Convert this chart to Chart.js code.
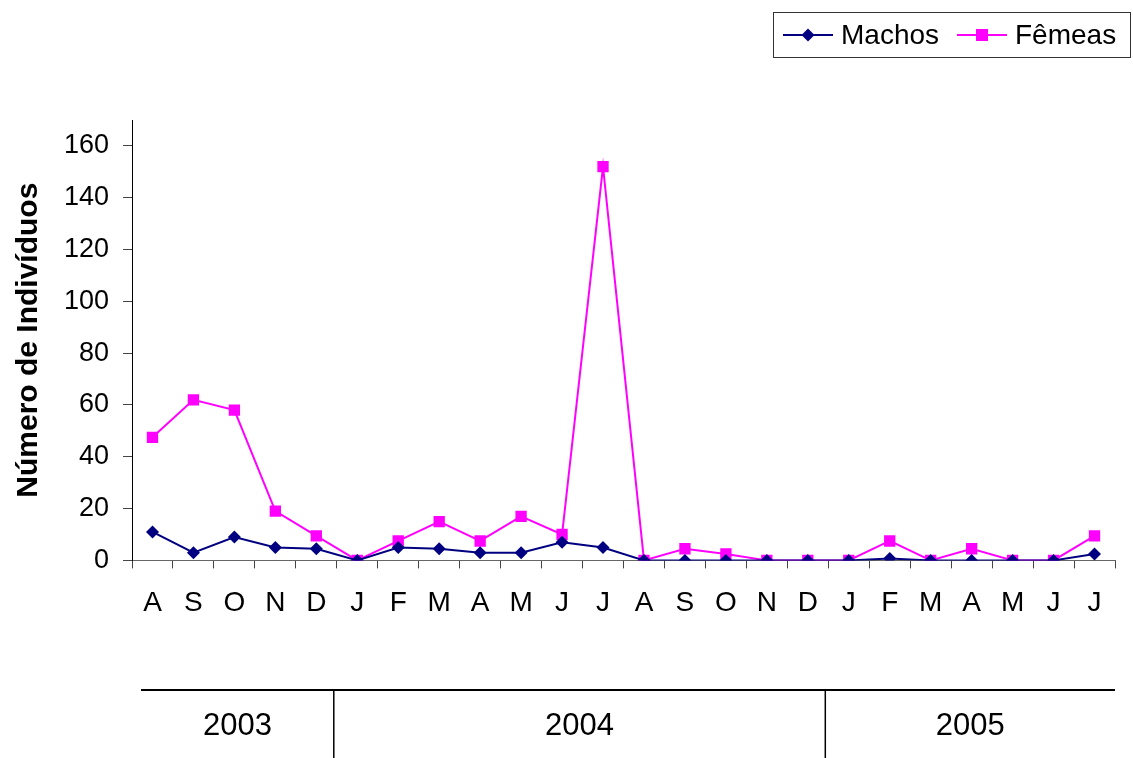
<!DOCTYPE html>
<html>
<head>
<meta charset="utf-8">
<script src="https://cdn.jsdelivr.net/npm/chart.js@4.4.1/dist/chart.umd.min.js"></script>
<style>
  html, body { margin: 0; padding: 0; background: #fff; }
  #wrap { width: 1133px; height: 758px; position: relative; }
</style>
</head>
<body>
<div id="wrap"><canvas id="c" width="1133" height="758"></canvas></div>
<script>
// Monthly captures, Aug 2003 – Jul 2005
const months = ['A','S','O','N','D','J','F','M','A','M','J','J','A','S','O','N','D','J','F','M','A','M','J','J'];
const machos = [11, 3, 9, 5, 4.5, 0, 5, 4.5, 3, 3, 7, 5, 0, 0, 0, 0, 0, 0, 0.7, 0, 0, 0, 0, 2.5];
const femeas = [47.5, 62, 58, 19, 9.5, 0, 7.5, 15, 7.5, 17, 10, 152, 0, 4.5, 2.5, 0, 0, 0, 7.5, 0, 4.5, 0, 0, 9.5];
const years = ['2003', '2004', '2005'];
const monthsPerYear = [5, 12, 7];
const yTicks = [0, 20, 40, 60, 80, 100, 120, 140, 160];

const FONT = "'Liberation Sans', Arial, sans-serif";

// Custom legend box: line sample with marker, then the series name
const legendBox = {
  id: 'legendBox',
  afterDraw(chart) {
    const ctx = chart.ctx;
    ctx.save();
    ctx.strokeStyle = '#333';
    ctx.lineWidth = 1;
    ctx.strokeRect(773.5, 12.5, 357, 45);
    const cy = 35;
    const starts = [783, 957];
    ctx.font = '28px ' + FONT;
    ctx.textBaseline = 'middle';
    chart.data.datasets.forEach((ds, i) => {
      const x0 = starts[i];
      ctx.strokeStyle = ds.borderColor;
      ctx.lineWidth = 2;
      ctx.beginPath();
      ctx.moveTo(x0, cy);
      ctx.lineTo(x0 + 50, cy);
      ctx.stroke();
      ctx.fillStyle = ds.backgroundColor;
      const mx = x0 + 25;
      if (ds.pointStyle === 'rectRot') {
        ctx.beginPath();
        ctx.moveTo(mx, cy - 6.5);
        ctx.lineTo(mx + 6.5, cy);
        ctx.lineTo(mx, cy + 6.5);
        ctx.lineTo(mx - 6.5, cy);
        ctx.closePath();
        ctx.fill();
      } else {
        ctx.fillRect(mx - 6, cy - 6, 12, 12);
      }
      ctx.fillStyle = '#000';
      ctx.textAlign = 'left';
      ctx.fillText(ds.label, x0 + 58, cy + 1);
    });
    ctx.restore();
  }
};

// Year band under the month axis
const yearBand = {
  id: 'yearBand',
  afterDraw(chart) {
    const ctx = chart.ctx;
    const xs = chart.scales.x;
    const top = 690, bottom = chart.height;
    ctx.save();
    ctx.strokeStyle = '#000';
    ctx.lineWidth = 2;
    ctx.beginPath();
    ctx.moveTo(xs.left + 9, top);
    ctx.lineTo(xs.right, top);
    ctx.stroke();
    ctx.font = '31px ' + FONT;
    ctx.fillStyle = '#000';
    ctx.textAlign = 'center';
    ctx.textBaseline = 'middle';
    let idx = 0;
    let segStart = xs.left + 9;
    years.forEach((yr, i) => {
      idx += monthsPerYear[i];
      let segEnd;
      if (i < years.length - 1) {
        segEnd = (xs.getPixelForValue(idx - 1) + xs.getPixelForValue(idx)) / 2 - 3;
        ctx.lineWidth = 1.5;
        ctx.beginPath();
        ctx.moveTo(segEnd, top);
        ctx.lineTo(segEnd, bottom);
        ctx.stroke();
      } else {
        segEnd = xs.right;
      }
      ctx.fillText(yr, (segStart + segEnd) / 2, 726);
      segStart = segEnd;
    });
    ctx.restore();
  }
};

new Chart(document.getElementById('c'), {
  type: 'line',
  data: {
    labels: months,
    datasets: [
      {
        label: 'Machos',
        data: machos,
        borderColor: '#000080',
        backgroundColor: '#000080',
        borderWidth: 2,
        pointStyle: 'rectRot',
        pointRadius: 6.5,
        pointHoverRadius: 6.5,
        pointBorderWidth: 0,
        tension: 0
      },
      {
        label: 'Fêmeas',
        data: femeas,
        borderColor: '#FF00FF',
        backgroundColor: '#FF00FF',
        borderWidth: 2,
        pointStyle: 'rect',
        pointRadius: 8,
        pointHoverRadius: 8,
        pointBorderWidth: 0,
        tension: 0
      }
    ]
  },
  options: {
    responsive: false,
    animation: false,
    layout: { padding: { top: 120, right: 18, bottom: 120, left: 0 } },
    plugins: {
      legend: { display: false },
      tooltip: { enabled: false }
    },
    scales: {
      x: {
        offset: true,
        grid: {
          offset: true,
          drawOnChartArea: false,
          drawTicks: true,
          tickLength: 8,
          color: '#444'
        },
        border: { display: true, color: '#666', width: 1 },
        ticks: {
          color: '#000',
          font: { family: FONT, size: 28 },
          padding: 18,
          maxRotation: 0,
          autoSkip: false
        }
      },
      y: {
        min: 0,
        max: 170,
        afterBuildTicks(scale) {
          scale.ticks = yTicks.map(v => ({ value: v }));
        },
        afterFit(scale) { scale.width = 132; },
        grid: {
          drawOnChartArea: false,
          drawTicks: true,
          tickLength: 9,
          color: '#444'
        },
        border: { display: true, color: '#000', width: 1 },
        ticks: {
          color: '#000',
          font: { family: FONT, size: 27 },
          padding: 14
        },
        title: {
          display: true,
          text: 'Número de Indivíduos',
          color: '#000',
          font: { family: FONT, size: 30, weight: 'bold' },
          padding: { top: 11, bottom: 0 }
        }
      }
    }
  },
  plugins: [legendBox, yearBand]
});
</script>
</body>
</html>
